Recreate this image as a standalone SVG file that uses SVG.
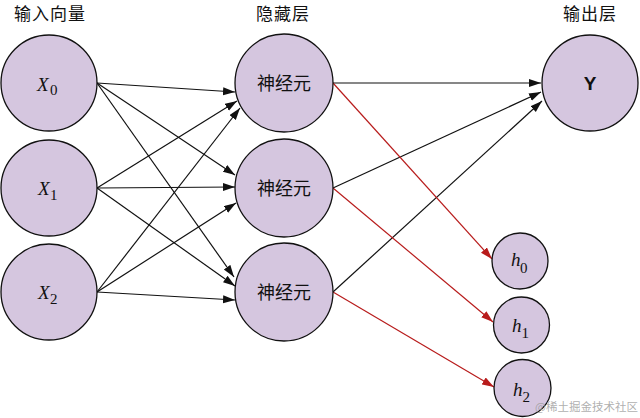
<svg xmlns="http://www.w3.org/2000/svg" width="640" height="418" viewBox="0 0 640 418">
<style>
.n{fill:#d5c6df;stroke:#111;stroke-width:1.3}
.cjk{font-family:"Noto Sans CJK SC","Noto Sans",sans-serif;font-size:18px;fill:#111;text-anchor:middle}
.hd{font-size:17px;letter-spacing:1px}
.m{font-family:"Liberation Serif","DejaVu Serif",serif;font-style:italic;font-size:19px;fill:#111}
.s{font-family:"Liberation Serif","DejaVu Serif",serif;font-size:15px;fill:#111}
.e{fill:none;stroke:#111;stroke-width:1.2;marker-end:url(#ab)}
.r{fill:none;stroke:#b81c1c;stroke-width:1.2;marker-end:url(#ar)}
</style>
<defs>
<marker id="ab" markerUnits="userSpaceOnUse" markerWidth="13" markerHeight="9" refX="12" refY="4" orient="auto"><path d="M0,0 L12,4 L0,8 z" fill="#111"/></marker>
<marker id="ar" markerUnits="userSpaceOnUse" markerWidth="13" markerHeight="9" refX="12" refY="4" orient="auto"><path d="M0,0 L12,4 L0,8 z" fill="#b81c1c"/></marker>
</defs>
<rect width="640" height="418" fill="#fff"/>
<g id="headers">
<text class="cjk hd" x="50" y="20">输入向量</text>
<text class="cjk hd" x="283" y="20">隐藏层</text>
<text class="cjk hd" x="590" y="20">输出层</text>
</g>
<g id="connectors">
<line class="e" x1="97" y1="83" x2="235" y2="92"/>
<line class="e" x1="97" y1="83" x2="235" y2="175"/>
<line class="e" x1="97" y1="83" x2="234" y2="277"/>
<line class="e" x1="97" y1="188" x2="237" y2="101"/>
<line class="e" x1="97" y1="188" x2="235" y2="187"/>
<line class="e" x1="97" y1="188" x2="235" y2="286"/>
<line class="e" x1="97" y1="292" x2="240" y2="108"/>
<line class="e" x1="97" y1="292" x2="236" y2="203"/>
<line class="e" x1="97" y1="292" x2="235" y2="300"/>
<line class="e" x1="333" y1="83" x2="541" y2="83"/>
<line class="e" x1="333" y1="188" x2="541" y2="92"/>
<line class="e" x1="333" y1="292" x2="542" y2="101"/>
<line class="r" x1="333" y1="83" x2="492" y2="259"/>
<line class="r" x1="333" y1="188" x2="493" y2="322"/>
<line class="r" x1="333" y1="292" x2="494" y2="387"/>
</g>
<g id="x0"><circle class="n" cx="49" cy="83" r="48"/><text class="m" x="37" y="91">X</text><text class="s" x="50" y="95">0</text></g>
<g id="x1"><circle class="n" cx="49" cy="188" r="48"/><text class="m" x="38" y="195">X</text><text class="s" x="50" y="200">1</text></g>
<g id="x2"><circle class="n" cx="49" cy="292" r="48"/><text class="m" x="38" y="299">X</text><text class="s" x="50" y="304">2</text></g>
<g id="h_0"><circle class="n" cx="284" cy="83" r="49"/><text class="cjk" x="284" y="90">神经元</text></g>
<g id="h_1"><circle class="n" cx="284" cy="188" r="49"/><text class="cjk" x="284" y="195">神经元</text></g>
<g id="h_2"><circle class="n" cx="284" cy="292" r="49"/><text class="cjk" x="284" y="299">神经元</text></g>
<g id="y"><circle class="n" cx="590" cy="83" r="48"/><text x="590" y="90" font-family="Liberation Sans,Arial,sans-serif" font-weight="bold" font-size="19" text-anchor="middle" fill="#111">Y</text></g>
<g id="o0"><circle class="n" cx="520" cy="261" r="28"/><text class="m" x="511" y="266" font-size="18">h</text><text class="s" x="520" y="273">0</text></g>
<g id="o1"><circle class="n" cx="521.5" cy="325" r="28"/><text class="m" x="512" y="332" font-size="18">h</text><text class="s" x="521.5" y="338">1</text></g>
<g id="o2"><circle class="n" cx="522.5" cy="388" r="28.5"/><text class="m" x="513" y="396" font-size="18">h</text><text class="s" x="522.5" y="402">2</text></g>
<g id="watermark"><text x="638" y="411" font-family="Noto Sans CJK SC,sans-serif" font-size="11.5" text-anchor="end" fill="#9a9a9a" fill-opacity="0.8">@稀土掘金技术社区</text></g>
</svg>
